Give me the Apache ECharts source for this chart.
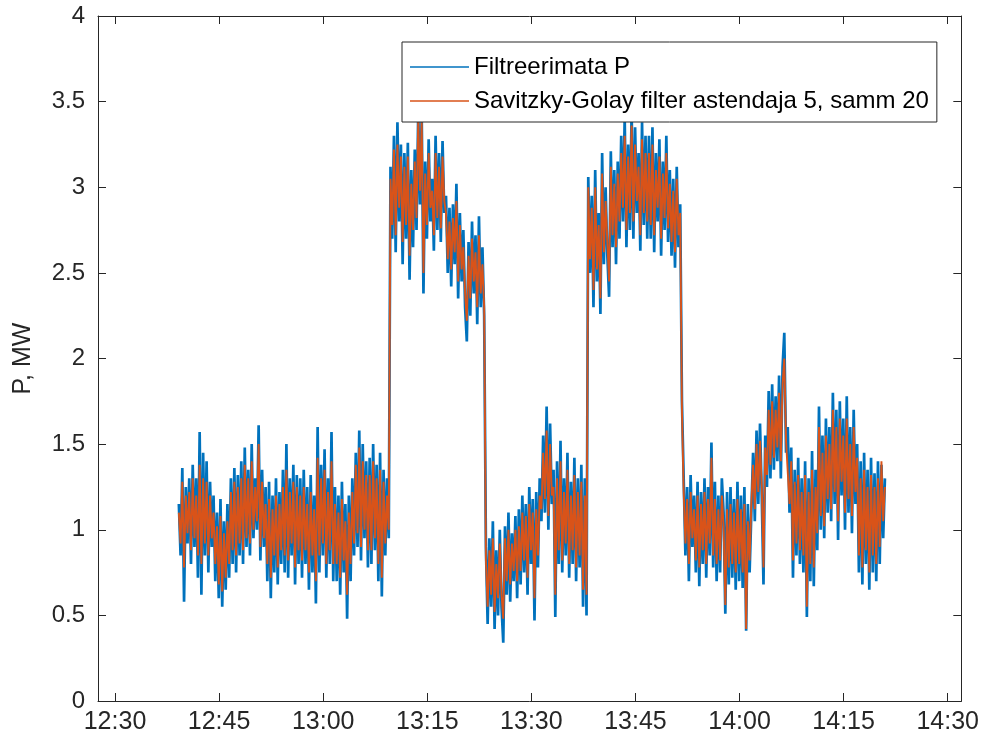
<!DOCTYPE html>
<html>
<head>
<meta charset="utf-8">
<script src="https://cdn.jsdelivr.net/npm/echarts@6/dist/echarts.min.js"></script>
<style>
  html, body { margin: 0; padding: 0; background: #fff; }
  #chart { width: 982px; height: 742px; }
</style>
</head>
<body>
<div id="chart"></div>
<script>
// Sampling clock: first sample 12:39:12 (minutes after 12:00), one sample every 15 s
const startMinute = 39.2;
const stepMinute = 0.25;

// Time-axis ticks (minutes after 12:00) and their labels
const tickMinutes = [30, 45, 60, 75, 90, 105, 120, 135, 150];
const tickLabels = ['12:30', '12:45', '13:00', '13:15', '13:30', '13:45', '14:00', '14:15', '14:30'];

// Unfiltered active power, MW
const rawP = [
  1.15, 0.85, 1.36, 0.58, 1.25, 0.92, 1.3, 0.8, 1.38, 0.9,
  1.3, 0.72, 1.57, 0.62, 1.45, 0.85, 1.4, 0.75, 1.28, 0.9,
  1.2, 0.7, 1.1, 0.6, 1.18, 0.55, 1.05, 0.65, 1.15, 0.72,
  1.3, 0.8, 1.36, 0.75, 1.32, 0.85, 1.4, 0.8, 1.48, 0.9,
  1.35, 0.85, 1.5, 0.95, 1.3, 1.0, 1.61, 0.82, 1.35, 0.9,
  1.25, 0.7, 1.28, 0.6, 1.2, 0.75, 1.3, 0.68, 1.22, 0.8,
  1.35, 0.75, 1.5, 0.72, 1.3, 0.85, 1.38, 0.68, 1.32, 0.8,
  1.3, 0.72, 1.35, 0.8, 1.25, 0.65, 1.32, 0.75, 1.2, 0.57,
  1.6, 0.75, 1.38, 0.85, 1.47, 0.72, 1.3, 0.8, 1.57, 0.7,
  1.25, 0.7, 1.2, 0.62, 1.28, 0.75, 1.15, 0.48, 1.2, 0.7,
  1.3, 0.85, 1.45, 0.9, 1.58, 0.82, 1.5, 0.95, 1.4, 0.78,
  1.42, 0.8, 1.5, 0.88, 1.38, 0.7, 1.45, 0.61, 1.35, 0.85,
  1.3, 0.95,
  3.12, 2.7, 3.3, 2.62, 3.38, 2.8, 3.25, 2.55,
  3.2, 2.7, 3.26, 2.46, 3.1, 2.65, 3.22, 2.75,
  3.45, 2.9, 3.42, 2.38,
  3.15, 2.7, 3.28, 2.8, 3.05, 2.63, 3.3, 2.75, 3.2, 2.68, 3.27, 2.85,
  2.95, 2.5, 2.88, 2.42, 2.9, 2.55, 3.02, 2.35, 2.85, 2.45,
  2.75, 2.3, 2.1, 2.68, 2.25, 2.8, 2.38, 2.72, 2.2, 2.83, 2.3, 2.65, 2.25,
  0.9, 0.45, 0.95, 0.55, 1.05, 0.42, 0.88, 0.5, 1.0, 0.55,
  0.34, 1.02, 0.62, 1.1, 0.58, 0.98, 0.7, 1.08, 0.6, 1.12,
  0.68, 1.2, 0.75, 1.15, 0.62, 1.25, 0.8, 1.18, 0.47, 1.22, 0.78, 1.3,
  1.05, 1.55, 1.1, 1.72, 1.0, 1.62, 1.15,
  1.35, 0.49, 1.4, 0.8, 1.52, 0.75, 1.3, 0.85, 1.45, 0.72,
  1.28, 0.8, 1.42, 0.7, 1.3, 0.78, 1.38, 0.55, 1.3, 0.5,
  3.06, 2.5, 2.95, 2.3, 3.1, 2.45, 2.85, 2.26, 3.2, 2.55,
  3.0, 2.6, 2.36, 3.21, 2.65, 3.1, 2.55, 3.15,
  2.7, 3.3, 2.8, 3.41, 2.65, 3.25, 2.75, 3.45, 2.7, 3.35, 2.85, 3.2, 2.63, 3.38, 2.78, 3.3, 2.7,
  3.3, 2.7, 3.35, 2.62, 3.2, 2.8, 3.28, 2.6, 3.15, 2.75, 3.3, 2.68,
  3.1, 2.6, 3.05, 2.53, 3.12, 2.65, 2.9,
  1.75, 1.3, 0.85, 1.25, 0.7, 1.32, 0.9, 1.2, 0.75, 1.28, 0.67, 1.22, 0.8, 1.3, 0.72, 1.25,
  0.85, 1.51,
  0.78, 1.28, 0.7, 1.2, 0.75, 1.3, 1.1, 0.51, 1.22, 0.68, 1.25,
  0.72, 1.18, 0.65, 1.28, 0.7, 1.2, 0.66, 1.25, 0.41, 1.15, 0.75,
  1.1, 1.45, 1.05, 1.58, 1.15, 1.62, 1.2, 0.68, 1.55, 1.25, 1.81, 1.3,
  1.85, 1.35, 1.78, 1.4, 1.9, 1.3, 1.95, 2.15, 1.45,
  1.6, 1.1, 1.48, 0.72, 1.35, 0.85, 1.42, 0.8, 1.3,
  0.75, 1.4, 0.49, 1.3, 0.7, 1.46, 0.67, 1.35,
  0.88, 1.72, 1.0, 1.55, 0.95, 1.65, 1.1, 1.6,
  1.05, 1.8, 1.15, 1.7, 0.94, 1.75, 1.2, 1.65, 1.0, 1.78, 1.1, 1.6, 0.98, 1.7, 1.15, 1.5,
  0.75, 1.4, 0.68, 1.45, 0.8, 1.35, 0.65, 1.42, 0.75, 1.33, 0.7, 1.4, 0.8, 1.38, 0.95, 1.3
];

// Savitzky-Golay smoothed power (order 5, 20 samples), MW
const sgP = [
  1.1, 0.92, 1.28, 0.78, 1.2, 0.98, 1.22, 0.88, 1.3, 0.95,
  1.2, 0.85, 1.38, 0.8, 1.3, 0.92, 1.28, 0.85, 1.2, 0.95,
  1.1, 0.8, 1.02, 0.68, 1.08, 0.64, 0.98, 0.72, 1.05, 0.8,
  1.22, 0.88, 1.28, 0.85, 1.25, 0.92, 1.3, 0.88, 1.38, 0.95,
  1.3, 0.92, 1.4, 1.0, 1.25, 1.05, 1.5, 0.9, 1.28, 0.95,
  1.15, 0.8, 1.18, 0.72, 1.12, 0.85, 1.2, 0.78, 1.15, 0.88,
  1.25, 0.85, 1.35, 0.82, 1.22, 0.92, 1.28, 0.78, 1.25, 0.88,
  1.2, 0.82, 1.25, 0.88, 1.15, 0.75, 1.22, 0.85, 1.12, 0.7,
  1.42, 0.85, 1.3, 0.92, 1.35, 0.8, 1.22, 0.88, 1.4, 0.8,
  1.15, 0.8, 1.1, 0.72, 1.18, 0.82, 1.05, 0.62, 1.1, 0.8,
  1.22, 0.92, 1.38, 0.98, 1.48, 0.9, 1.4, 1.0, 1.32, 0.88,
  1.32, 0.88, 1.4, 0.95, 1.3, 0.8, 1.35, 0.72, 1.28, 0.92,
  1.2, 1.0,
  3.05, 2.78, 3.22, 2.72, 3.25, 2.88, 3.18, 2.68,
  3.12, 2.78, 3.18, 2.6, 3.02, 2.75, 3.15, 2.82,
  3.4, 2.98, 3.38, 2.5,
  3.08, 2.78, 3.2, 2.88, 2.98, 2.72, 3.2, 2.82, 3.12, 2.76, 3.18, 2.92,
  2.85, 2.58, 2.8, 2.52, 2.82, 2.62, 2.92, 2.45, 2.78, 2.52,
  2.65, 2.38, 2.22, 2.6, 2.35, 2.7, 2.45, 2.62, 2.3, 2.72, 2.38, 2.55, 2.3,
  0.82, 0.55, 0.88, 0.62, 0.95, 0.52, 0.8, 0.6, 0.92, 0.62,
  0.48, 0.95, 0.7, 1.0, 0.68, 0.92, 0.76, 1.0, 0.7, 1.02,
  0.76, 1.1, 0.82, 1.08, 0.72, 1.15, 0.88, 1.1, 0.6, 1.12, 0.85, 1.2,
  1.12, 1.45, 1.18, 1.58, 1.08, 1.5, 1.2,
  1.25, 0.62, 1.3, 0.88, 1.4, 0.82, 1.22, 0.92, 1.35, 0.8,
  1.2, 0.88, 1.32, 0.78, 1.22, 0.85, 1.28, 0.65, 1.2, 0.62,
  3.0, 2.58, 2.88, 2.4, 3.0, 2.52, 2.78, 2.35, 3.08, 2.62,
  2.92, 2.68, 2.45, 3.12, 2.72, 3.02, 2.65, 3.08,
  2.8, 3.2, 2.88, 3.3, 2.75, 3.18, 2.85, 3.36, 2.8, 3.25, 2.92, 3.12, 2.72, 3.28, 2.85, 3.2, 2.8,
  3.2, 2.78, 3.25, 2.72, 3.1, 2.88, 3.18, 2.7, 3.08, 2.82, 3.2, 2.76,
  3.02, 2.68, 2.98, 2.62, 3.05, 2.72, 2.85,
  1.7, 1.22, 0.92, 1.18, 0.8, 1.22, 0.95, 1.12, 0.82, 1.2, 0.78, 1.15, 0.88, 1.22, 0.8, 1.18,
  0.92, 1.42,
  0.85, 1.18, 0.8, 1.12, 0.82, 1.2, 1.02, 0.56, 1.12, 0.78, 1.15,
  0.8, 1.1, 0.75, 1.18, 0.8, 1.12, 0.75, 1.15, 0.42, 1.05, 0.82,
  1.15, 1.38, 1.12, 1.5, 1.22, 1.52, 1.25, 0.78, 1.48, 1.32, 1.7, 1.38,
  1.75, 1.42, 1.7, 1.48, 1.8, 1.4, 1.85, 2.0, 1.52,
  1.52, 1.15, 1.4, 0.82, 1.28, 0.92, 1.32, 0.88, 1.22,
  0.85, 1.32, 0.55, 1.22, 0.8, 1.35, 0.78, 1.25,
  0.98, 1.6, 1.08, 1.45, 1.02, 1.55, 1.18, 1.5,
  1.12, 1.7, 1.22, 1.6, 1.05, 1.65, 1.28, 1.55, 1.1, 1.65, 1.18, 1.5, 1.08, 1.6, 1.22, 1.42,
  0.85, 1.3, 0.78, 1.35, 0.88, 1.25, 0.75, 1.32, 0.85, 1.25, 0.8, 1.3, 0.9, 1.4, 1.05, 1.25
];

const seriesNames = ['Filtreerimata P', 'Savitzky-Golay filter astendaja 5, samm 20'];
const seriesColors = ['#0072BD', '#D95319'];
const seriesWidths = [2.7, 1.9];

const withTime = values => values.map((v, i) => [startMinute + i * stepMinute, v]);

const FONT = 'Liberation Sans, Arial, Helvetica, sans-serif';
const AXIS_COLOR = '#262626';
const X_MIN = 27.55, X_MAX = 151.96;

const timeLabel = v => {
  const i = tickMinutes.indexOf(Math.round(v));
  return i >= 0 ? tickLabels[i] : '';
};

const xAxisBase = (position, showLabels) => ({
  type: 'value',
  position: position,
  min: X_MIN,
  max: X_MAX,
  axisLine: { show: true, onZero: false, lineStyle: { color: AXIS_COLOR, width: 1 } },
  axisTick: { show: true, inside: true, length: 8, customValues: tickMinutes,
              lineStyle: { color: AXIS_COLOR, width: 1 } },
  axisLabel: { show: showLabels, customValues: tickMinutes, formatter: timeLabel,
               fontSize: 25, fontFamily: FONT, color: AXIS_COLOR, margin: 9 },
  splitLine: { show: false }
});

const yAxisBase = (position, showLabels) => ({
  type: 'value',
  position: position,
  min: 0,
  max: 4,
  interval: 0.5,
  axisLine: { show: true, onZero: false, lineStyle: { color: AXIS_COLOR, width: 1 } },
  axisTick: { show: true, inside: true, length: 8, lineStyle: { color: AXIS_COLOR, width: 1 } },
  axisLabel: { show: showLabels, fontSize: 24, fontFamily: FONT, color: AXIS_COLOR, margin: 13 },
  splitLine: { show: false }
});

const yMain = yAxisBase('left', true);
yMain.name = 'P, MW';
yMain.nameLocation = 'middle';
yMain.nameGap = 62;
yMain.nameTextStyle = { fontSize: 25, fontFamily: FONT, color: AXIS_COLOR };

const chart = echarts.init(document.getElementById('chart'), null, { renderer: 'canvas' });
chart.setOption({
  animation: false,
  backgroundColor: '#fff',
  grid: { left: 98, right: 19, top: 16, bottom: 41, containLabel: false },
  xAxis: [xAxisBase('bottom', true), xAxisBase('top', false)],
  yAxis: [yMain, yAxisBase('right', false)],
  legend: {
    orient: 'vertical',
    left: 402,
    top: 42,
    padding: [13, 8, 9, 8],
    itemWidth: 59,
    itemHeight: 1.5,
    itemGap: 10,
    icon: 'rect',
    borderColor: AXIS_COLOR,
    borderWidth: 1,
    backgroundColor: '#fff',
    textStyle: { fontSize: 24, fontFamily: FONT, color: '#000' },
    data: seriesNames
  },
  series: [rawP, sgP].map((vals, k) => ({
    name: seriesNames[k],
    type: 'line',
    xAxisIndex: 0,
    yAxisIndex: 0,
    data: withTime(vals),
    showSymbol: false,
    symbol: 'none',
    color: seriesColors[k],
    lineStyle: { color: seriesColors[k], width: seriesWidths[k] },
    z: 2 + k
  }))
});
</script>
</body>
</html>
